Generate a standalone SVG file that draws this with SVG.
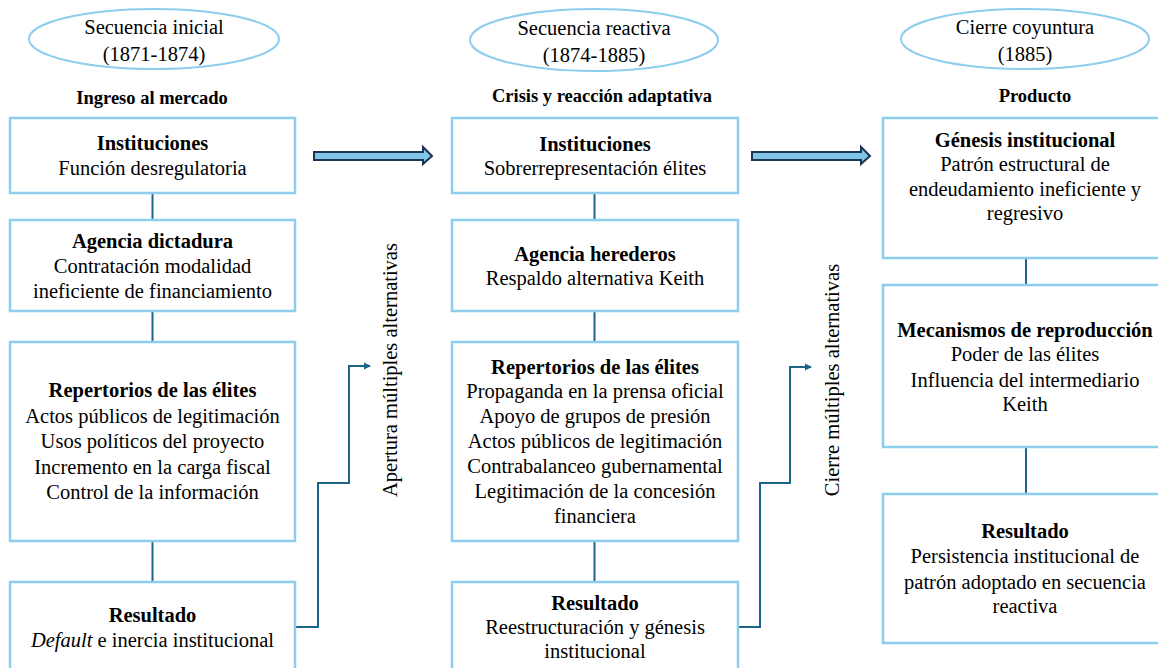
<svg xmlns="http://www.w3.org/2000/svg" width="1158" height="668" viewBox="0 0 1158 668">
<style>
text{fill:#000;text-anchor:middle}
.t{font-size:20.5px}
.b{font-size:20.5px;font-weight:bold}
.h{font-size:18.5px;font-weight:bold}
.box{fill:#fff;stroke:#8dcdee;stroke-width:2.5}
.ell{fill:#fff;stroke:#8dcdee;stroke-width:2}
.ln{fill:none;stroke:#1d6489;stroke-width:2}
.blk{fill:#7fc6e8;stroke:#1b3552;stroke-width:2;stroke-linejoin:miter}
</style>
<defs>
<marker id="ah" markerWidth="8" markerHeight="8" refX="6" refY="4" orient="auto" markerUnits="userSpaceOnUse">
<path d="M0,0.5 L7,4 L0,7.5 Z" fill="#1d6489"/>
</marker>
</defs>
<rect width="1158" height="668" fill="#fff"/>

<g id="connectors">
<line class="ln" x1="152.5" y1="193" x2="152.5" y2="220"/>
<line class="ln" x1="152.5" y1="311" x2="152.5" y2="342"/>
<line class="ln" x1="152.5" y1="541" x2="152.5" y2="582"/>
<line class="ln" x1="594.5" y1="193" x2="594.5" y2="220"/>
<line class="ln" x1="594.5" y1="311" x2="594.5" y2="342"/>
<line class="ln" x1="594.5" y1="541" x2="594.5" y2="582"/>
<line class="ln" x1="1026" y1="258" x2="1026" y2="285"/>
<line class="ln" x1="1026" y1="447" x2="1026" y2="494"/>
<polyline class="ln" points="295,627 318,627 318,483 349,483 349,366 370,366" marker-end="url(#ah)"/>
<polyline class="ln" points="738,627 760,627 760,483 790,483 790,367 811,367" marker-end="url(#ah)"/>
<path class="blk" d="M314,152 L423,152 L423,147 L432,156 L423,164 L423,160 L314,160 Z"/>
<path class="blk" d="M752,152 L861,152 L861,147 L870,156 L861,164 L861,160 L752,160 Z"/>
</g>

<g font-family="Liberation Serif, DejaVu Serif, serif">
<g id="ell-inicial">
<ellipse class="ell" cx="154" cy="39" rx="125" ry="30"/>
<text class="t" x="154" y="34">Secuencia inicial</text>
<text class="t" x="154" y="61">(1871-1874)</text>
</g>
<g id="ell-reactiva">
<ellipse class="ell" cx="594" cy="40" rx="124" ry="31"/>
<text class="t" x="594" y="35">Secuencia reactiva</text>
<text class="t" x="594" y="62">(1874-1885)</text>
</g>
<g id="ell-cierre">
<ellipse class="ell" cx="1025" cy="39" rx="124" ry="30"/>
<text class="t" x="1025" y="34">Cierre coyuntura</text>
<text class="t" x="1025" y="61">(1885)</text>
</g>

<g id="head-1"><text class="h" x="152" y="104">Ingreso al mercado</text></g>
<g id="head-2"><text class="h" x="602" y="102">Crisis y reacción adaptativa</text></g>
<g id="head-3"><text class="h" x="1035" y="102">Producto</text></g>

<g id="l1">
<rect class="box" x="10" y="118" width="285" height="75"/>
<text class="b" x="152.5" y="150">Instituciones</text>
<text class="t" x="152.5" y="175">Función desregulatoria</text>
</g>
<g id="l2">
<rect class="box" x="10" y="220" width="285" height="91"/>
<text class="b" x="152.5" y="248">Agencia dictadura</text>
<text class="t" x="152.5" y="273">Contratación modalidad</text>
<text class="t" x="152.5" y="298">ineficiente de financiamiento</text>
</g>
<g id="l3">
<rect class="box" x="10" y="342" width="285" height="199"/>
<text class="b" x="152.5" y="397">Repertorios de las élites</text>
<text class="t" x="152.5" y="423">Actos públicos de legitimación</text>
<text class="t" x="152.5" y="448">Usos políticos del proyecto</text>
<text class="t" x="152.5" y="474">Incremento en la carga fiscal</text>
<text class="t" x="152.5" y="499">Control de la información</text>
</g>
<g id="l4">
<rect class="box" x="10" y="582" width="285" height="100"/>
<text class="b" x="152.5" y="622">Resultado</text>
<text class="t" x="152.5" y="647"><tspan font-style="italic">Default</tspan> e inercia institucional</text>
</g>

<g id="m1">
<rect class="box" x="452" y="118" width="286" height="75"/>
<text class="b" x="595" y="151">Instituciones</text>
<text class="t" x="595" y="175">Sobrerrepresentación élites</text>
</g>
<g id="m2">
<rect class="box" x="452" y="220" width="286" height="91"/>
<text class="b" x="595" y="261">Agencia herederos</text>
<text class="t" x="595" y="285">Respaldo alternativa Keith</text>
</g>
<g id="m3">
<rect class="box" x="452" y="342" width="286" height="199"/>
<text class="b" x="595" y="374">Repertorios de las élites</text>
<text class="t" x="595" y="398">Propaganda en la prensa oficial</text>
<text class="t" x="595" y="423">Apoyo de grupos de presión</text>
<text class="t" x="595" y="448">Actos públicos de legitimación</text>
<text class="t" x="595" y="473">Contrabalanceo gubernamental</text>
<text class="t" x="595" y="498">Legitimación de la concesión</text>
<text class="t" x="595" y="523">financiera</text>
</g>
<g id="m4">
<rect class="box" x="452" y="582" width="286" height="100"/>
<text class="b" x="595" y="610">Resultado</text>
<text class="t" x="595" y="634">Reestructuración y génesis</text>
<text class="t" x="595" y="658">institucional</text>
</g>

<g id="r1">
<rect class="box" x="883" y="118" width="286" height="140"/>
<text class="b" x="1025" y="147">Génesis institucional</text>
<text class="t" x="1025" y="171">Patrón estructural de</text>
<text class="t" x="1025" y="196">endeudamiento ineficiente y</text>
<text class="t" x="1025" y="220">regresivo</text>
</g>
<g id="r2">
<rect class="box" x="883" y="285" width="286" height="162"/>
<text class="b" x="1025" y="337">Mecanismos de reproducción</text>
<text class="t" x="1025" y="361">Poder de las élites</text>
<text class="t" x="1025" y="387">Influencia del intermediario</text>
<text class="t" x="1025" y="411">Keith</text>
</g>
<g id="r3">
<rect class="box" x="883" y="494" width="286" height="149"/>
<text class="b" x="1025" y="538">Resultado</text>
<text class="t" x="1025" y="563">Persistencia institucional de</text>
<text class="t" x="1025" y="589">patrón adoptado en secuencia</text>
<text class="t" x="1025" y="613">reactiva</text>
</g>

<g id="lbl-apertura">
<text class="t" transform="translate(397,370) rotate(-90)">Apertura múltiples alternativas</text>
</g>
<g id="lbl-cierre">
<text class="t" transform="translate(839,380) rotate(-90)">Cierre múltiples alternativas</text>
</g>
</g>
</svg>
